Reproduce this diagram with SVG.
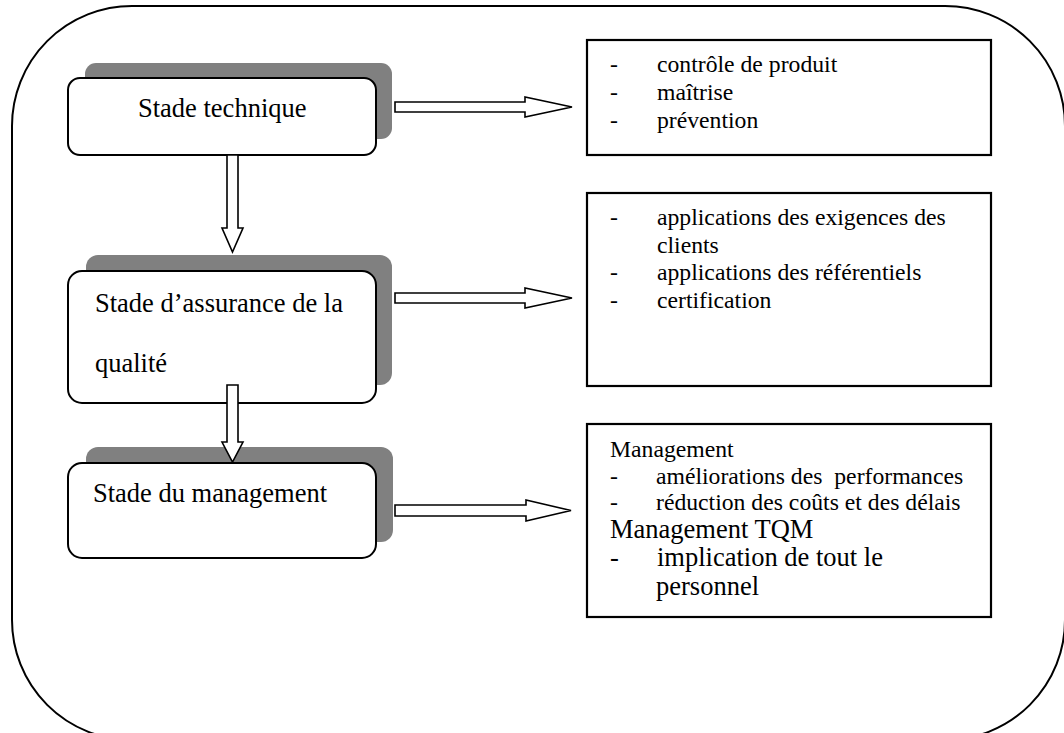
<svg xmlns="http://www.w3.org/2000/svg" width="1064" height="733" viewBox="0 0 1064 733">
  <style>
    .frame { fill: none; stroke: #000; stroke-width: 2; }
    .shadow { fill: #808080; stroke: none; }
    .stage { fill: #fff; stroke: #000; stroke-width: 2; }
    .box { fill: #fff; stroke: #000; stroke-width: 2.2; }
    .arrow { fill: #fff; stroke: #000; stroke-width: 1.6; stroke-linejoin: miter; }
    text { font-family: "Liberation Serif", "Times New Roman", serif; fill: #000; }
    .lg { font-size: 26.5px; }
    .sm { font-size: 23.7px; }
  </style>

  <!-- outer rounded frame -->
  <rect class="frame" x="12" y="6" width="1053" height="734" rx="120" ry="120"/>

  <!-- stage nodes -->
  <g id="stade-technique">
    <rect class="shadow" x="85" y="63" width="307" height="76" rx="11"/>
    <rect class="stage" x="68" y="78" width="308" height="77" rx="12"/>
    <text class="lg" x="138" y="117">Stade technique</text>
  </g>

  <g id="stade-assurance">
    <rect class="shadow" x="86" y="255" width="306" height="130" rx="12"/>
    <rect class="stage" x="68" y="271" width="308" height="132" rx="14"/>
    <text class="lg" x="95" y="312">Stade d’assurance de la</text>
    <text class="lg" x="95" y="372">qualité</text>
  </g>

  <g id="stade-management">
    <rect class="shadow" x="86" y="447" width="307" height="95" rx="12"/>
    <rect class="stage" x="68" y="463" width="308" height="95" rx="14"/>
    <text class="lg" x="93" y="502">Stade du management</text>
  </g>

  <!-- description boxes -->
  <g id="desc-technique">
    <rect class="box" x="587" y="40" width="404" height="115"/>
    <text class="sm" x="610" y="72">-</text>
    <text class="sm" x="657" y="72">contrôle de produit</text>
    <text class="sm" x="610" y="100">-</text>
    <text class="sm" x="657" y="100">maîtrise</text>
    <text class="sm" x="610" y="128">-</text>
    <text class="sm" x="657" y="128">prévention</text>
  </g>

  <g id="desc-assurance">
    <rect class="box" x="587" y="193" width="404" height="193"/>
    <text class="sm" x="610" y="225">-</text>
    <text class="sm" x="657" y="225">applications des exigences des</text>
    <text class="sm" x="657" y="253">clients</text>
    <text class="sm" x="610" y="280">-</text>
    <text class="sm" x="657" y="280">applications des référentiels</text>
    <text class="sm" x="610" y="308">-</text>
    <text class="sm" x="657" y="308">certification</text>
  </g>

  <g id="desc-management">
    <rect class="box" x="587" y="424" width="404" height="193"/>
    <text class="sm" x="610" y="457">Management</text>
    <text class="sm" x="610" y="484">-</text>
    <text class="sm" x="656" y="484" xml:space="preserve">améliorations des  performances</text>
    <text class="sm" x="610" y="510">-</text>
    <text class="sm" x="656" y="510">réduction des coûts et des délais</text>
    <text class="lg" x="610" y="538">Management TQM</text>
    <text class="lg" x="610" y="566">-</text>
    <text class="lg" x="657" y="566">implication de tout le</text>
    <text class="lg" x="656" y="595">personnel</text>
  </g>

  <!-- block arrows -->
  <g id="connectors">
    <polygon class="arrow" points="227,155 238,155 238,228 243,228 232.5,252 222,228 227,228"/>
    <polygon class="arrow" points="227,385 238,385 238,442 243,442 232.5,462 222,442 227,442"/>
    <polygon class="arrow" points="395,102 525,102 525,97 572,107 525,117 525,112 395,112"/>
    <polygon class="arrow" points="395,293 525,293 525,288 572,298 525,308 525,303 395,303"/>
    <polygon class="arrow" points="395,505 526,505 526,500 571,510.5 526,521 526,516 395,516"/>
  </g>
</svg>
